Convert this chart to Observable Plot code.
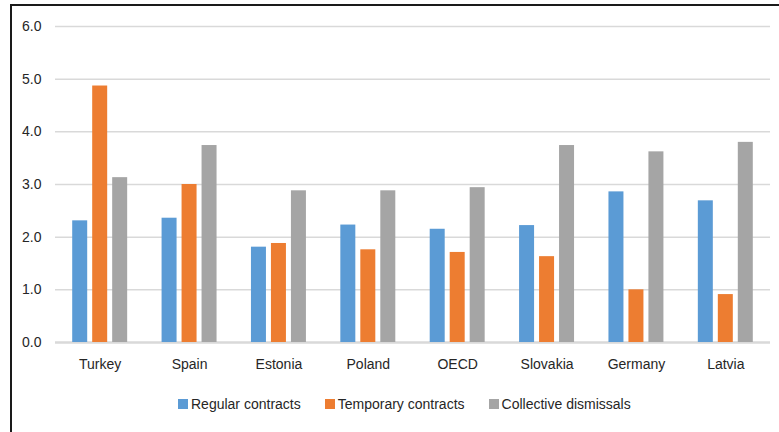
<!DOCTYPE html>
<html>
<head>
<meta charset="utf-8">
<script src="https://cdn.jsdelivr.net/npm/d3@7"></script>
<script src="https://cdn.jsdelivr.net/npm/@observablehq/plot@0.6"></script>
<style>
  html, body { margin: 0; padding: 0; background: #fff; }
  #chart { position: relative; width: 779px; height: 432px; overflow: hidden;
    font-family: "Liberation Sans", Arial, sans-serif; color: #262626; }
  #chart svg { position: absolute; left: 0; top: 0; }
  #frame { position: absolute; left: 10px; top: 4px; width: 900px; height: 600px;
    border-left: 2px solid #1a1a1a; border-top: 2px solid #1a1a1a; box-sizing: border-box; }
  #legend { position: absolute; left: 178px; top: 396px; display: flex; gap: 24px; font-size: 14px; line-height: 16px; }
  #legend .item { display: flex; align-items: center; }
  #legend .sw { width: 10px; height: 10px; margin-right: 3px; }
</style>
</head>
<body>
<div id="chart"><div id="frame"></div><div id="legend"></div></div>
<script>
// Employment protection indicators by country
const countries = ["Turkey", "Spain", "Estonia", "Poland", "OECD", "Slovakia", "Germany", "Latvia"];
const seriesNames = ["Regular contracts", "Temporary contracts", "Collective dismissals"];
const regular = [2.31, 2.36, 1.81, 2.23, 2.15, 2.22, 2.86, 2.69];
const temporary = [4.87, 3.00, 1.88, 1.76, 1.71, 1.63, 1.00, 0.91];
const collective = [3.13, 3.74, 2.88, 2.88, 2.94, 3.74, 3.62, 3.80];
const yTicks = [0, 1, 2, 3, 4, 5, 6];
const colors = ["#5b9bd5", "#ed7d31", "#a5a5a5"];

const seriesValues = [regular, temporary, collective];
const rows = countries.flatMap((country, i) =>
  seriesNames.map((series, j) => ({country, series, value: seriesValues[j][i]}))
);

const W = 779, H = 380;
const common = {
  width: W, height: H,
  marginLeft: 55, marginRight: 9, marginTop: 26, marginBottom: 38,
  style: {fontFamily: "'Liberation Sans', Arial, sans-serif", fontSize: "14px", color: "#262626", background: "transparent"}
};

// Background layer: gridlines, baseline, axes and category labels
const back = Plot.plot({
  ...common,
  y: {domain: [0, 6], label: null},
  x: {domain: countries, paddingInner: 0.385, paddingOuter: 0.1925, round: false, label: null},
  marks: [
    Plot.ruleY(yTicks.slice(1), {stroke: "#d9d9d9", strokeWidth: 1.5}),
    Plot.ruleY([0], {stroke: "#d9d9d9", strokeWidth: 2.5}),
    Plot.axisY(yTicks, {tickSize: 0, tickPadding: 14, tickFormat: d3.format(".1f"), label: null}),
    Plot.axisX({tickSize: 0, tickPadding: 17, label: null})
  ]
});

// Foreground layer: grouped bars, one facet per country
const front = Plot.plot({
  ...common,
  y: {domain: [0, 6], axis: null},
  fx: {domain: countries, paddingInner: 0.385, paddingOuter: 0.1925, round: false, axis: null, label: null},
  x: {domain: seriesNames, paddingInner: 0.25, paddingOuter: 0, round: false, axis: null},
  color: {domain: seriesNames, range: colors},
  marks: [
    Plot.barY(rows, {fx: "country", x: "series", y: "value", fill: "series"})
  ]
});

const chart = document.getElementById("chart");
chart.insertBefore(back, chart.firstChild);
chart.insertBefore(front, back.nextSibling);

const legend = document.getElementById("legend");
seriesNames.forEach((name, i) => {
  const item = document.createElement("div");
  item.className = "item";
  const sw = document.createElement("span");
  sw.className = "sw";
  sw.style.background = colors[i];
  const label = document.createElement("span");
  label.textContent = name;
  item.append(sw, label);
  legend.append(item);
});
</script>
</body>
</html>
